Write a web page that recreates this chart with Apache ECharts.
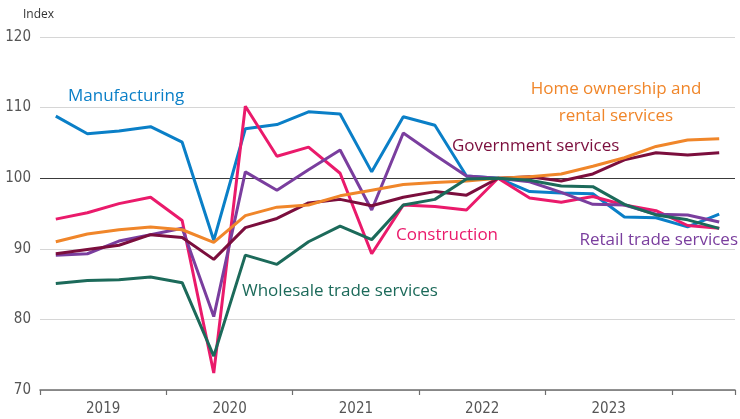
<!DOCTYPE html>
<html>
<head>
<meta charset="utf-8">
<script src="https://cdn.jsdelivr.net/npm/echarts@6/dist/echarts.min.js"></script>
<style>
html,body{margin:0;padding:0;background:#fff;}
#chart{width:740px;height:419px;}
</style>
</head>
<body>
<div id="chart"></div>
<script>
const quarters = ['2019 Q1','2019 Q2','2019 Q3','2019 Q4','2020 Q1','2020 Q2','2020 Q3','2020 Q4','2021 Q1','2021 Q2','2021 Q3','2021 Q4','2022 Q1','2022 Q2','2022 Q3','2022 Q4','2023 Q1','2023 Q2','2023 Q3','2023 Q4','2024 Q1','2024 Q2'];
const yearLabels = ['2019','2020','2021','2022','2023'];
const yTicks = [70, 80, 90, 100, 110, 120];

const manufacturing = [108.8,106.3,106.7,107.3,105.1,91.2,107.0,107.6,109.4,109.1,100.9,108.7,107.5,100.3,100,98.1,97.9,97.8,94.5,94.4,93.1,94.9];
const construction  = [94.2,95.1,96.4,97.3,94.0,72.4,110.2,103.1,104.4,100.7,89.3,96.2,96.0,95.5,100,97.2,96.6,97.4,96.2,95.4,93.3,92.9];
const retail        = [89.1,89.3,91.1,92.0,92.9,80.4,100.9,98.3,101.2,104.0,95.5,106.4,103.3,100.3,100,99.5,98.0,96.3,96.2,94.9,94.8,93.8];
const government    = [89.3,89.9,90.5,92.0,91.6,88.5,93.0,94.3,96.5,97.0,96.1,97.3,98.1,97.6,100,100.2,99.6,100.6,102.6,103.6,103.3,103.6];
const homeOwnership = [91.0,92.1,92.7,93.1,92.7,90.9,94.7,95.9,96.2,97.5,98.3,99.1,99.4,99.6,100,100.2,100.6,101.7,102.9,104.5,105.4,105.6];
const wholesale     = [85.1,85.5,85.6,86.0,85.2,74.8,89.1,87.8,91.0,93.2,91.3,96.2,97.0,99.9,100,99.7,98.9,98.8,96.3,94.8,94.1,92.9];

const seriesNames = ['Manufacturing','Construction','Retail trade services','Government services','Home ownership and rental services','Wholesale trade services'];
const colors = ['#0a7fc7','#ea1a6b','#7a3e9e','#7b0e3d','#f0862a','#1c6a5a'];
const allData = [manufacturing, construction, retail, government, homeOwnership, wholesale];

const chart = echarts.init(document.getElementById('chart'), null, {renderer:'canvas'});
const labelFont = '"Open Sans", "Noto Sans", sans-serif';
const axisFont = '"Liberation Sans Narrow", "DejaVu Sans Condensed", "Open Sans", sans-serif';

function lbl(text, x, y, color, align) {
  return {type: 'text', x: x, y: y, style: {text: text, font: '17px ' + labelFont, fill: color, align: align || 'left', verticalAlign: 'middle'}};
}

chart.setOption({
  animation: false,
  backgroundColor: '#fff',
  grid: {left: 40, right: 5, top: 37, bottom: 29},
  xAxis: {
    type: 'category',
    data: quarters,
    boundaryGap: true,
    axisLine: {show: true, lineStyle: {color: '#6e6e6e', width: 1.5}},
    axisTick: {show: true, length: 5, lineStyle: {color: '#6e6e6e', width: 1.2},
      interval: function (i) { return i % 4 === 0; }},
    axisLabel: {
      interval: function (i, v) { return i % 4 === 1 && yearLabels.indexOf(v.slice(0,4)) >= 0; },
      formatter: function (v) { return '{y|' + v.slice(0,4) + '}'; },
      margin: 12,
      rich: {y: {fontFamily: axisFont, fontSize: 15, color: '#555', padding: [0,0,0,31.6]}}
    },
    splitLine: {show: false}
  },
  yAxis: {
    type: 'value',
    min: yTicks[0], max: yTicks[yTicks.length-1], interval: 10,
    axisLine: {show: false},
    axisTick: {show: false},
    axisLabel: {fontFamily: axisFont, fontSize: 15, color: '#555', margin: 9},
    splitLine: {show: true, lineStyle: {color: ['#d6d6d6','#d6d6d6','#d6d6d6','#3a3a3a','#d6d6d6','#d6d6d6'], width: 1.2}}
  },
  series: allData.map(function (d, k) {
    return {
      name: seriesNames[k], type: 'line', data: d,
      symbol: 'none', smooth: false,
      lineStyle: {color: colors[k], width: 3},
      itemStyle: {color: colors[k]}
    };
  }),
  graphic: [
    {type: 'text', x: 23, y: 15, style: {text: 'Index', font: '12px ' + labelFont, fill: '#333', verticalAlign: 'middle'}},
    lbl('Manufacturing', 68, 96, colors[0]),
    lbl('Construction', 396, 235, colors[1]),
    lbl('Retail trade services', 738, 240, colors[2], 'right'),
    lbl('Government services', 452, 146, colors[3]),
    lbl('Home ownership and', 616, 89, colors[4], 'center'),
    lbl('rental services', 616, 116, colors[4], 'center'),
    lbl('Wholesale trade services', 242, 291, colors[5])
  ]
});
</script>
</body>
</html>
